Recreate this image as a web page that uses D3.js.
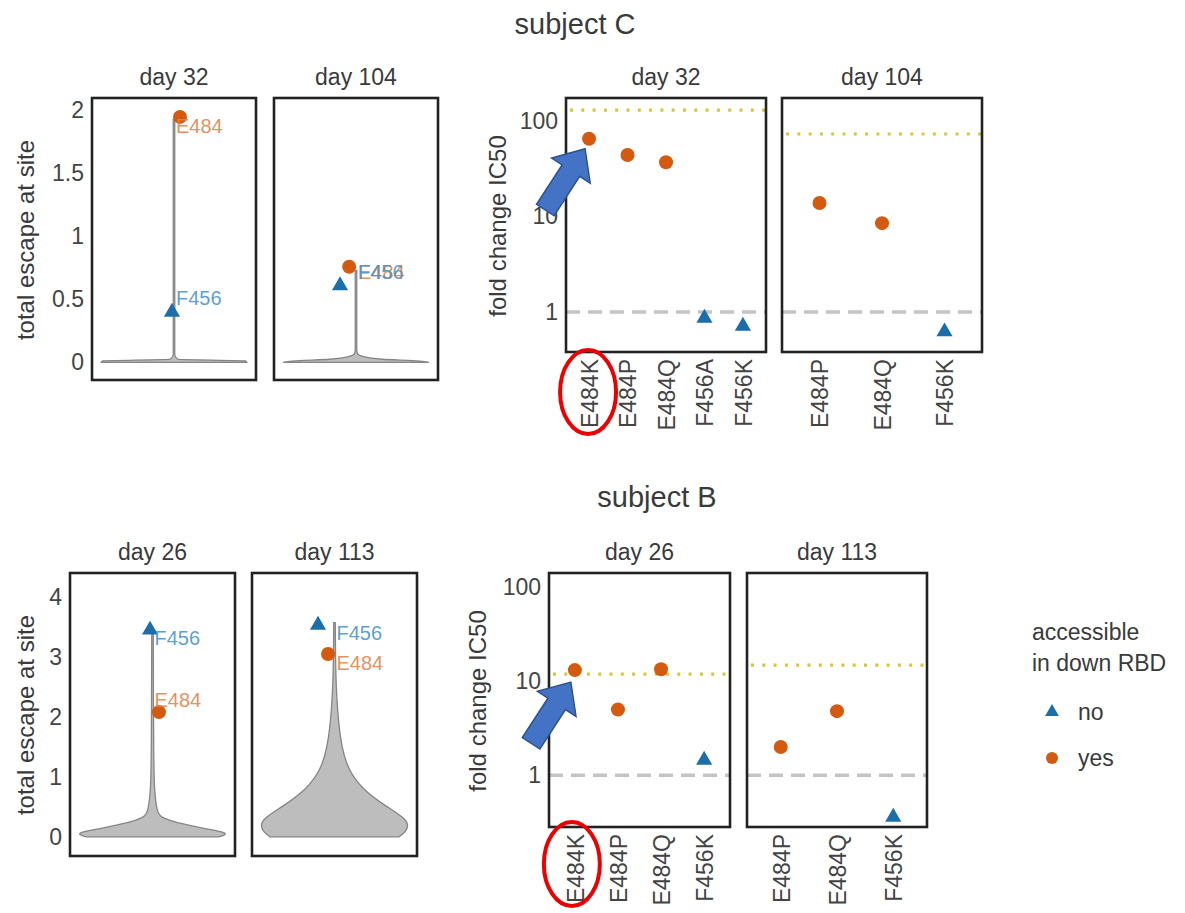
<!DOCTYPE html>
<html>
<head>
<meta charset="UTF-8">
<title>Escape at sites and fold change IC50</title>
<style>
body { margin: 0; background: #fff; }
svg { display: block; font-family: "Liberation Sans", Arial, sans-serif; }
</style>
</head>
<body>
<svg></svg>
<script src="https://d3js.org/d3.v7.min.js"></script>
<script>
let width = 1185, height = 913;

// ---------- data ----------
let subjects = ["subject C", "subject B"];
let daysC = ["day 32", "day 104"];
let daysB = ["day 26", "day 113"];

// violin outlines: [total escape at site, relative density]
let violinC32 = [[0, 0.97], [0.012, 0.95], [0.025, 0.05], [0.06, 0.01], [1.93, 0.01]];
let violinC104 = [[0, 0.97], [0.01, 0.85], [0.025, 0.35], [0.045, 0.1], [0.07, 0.02], [0.1, 0.01], [0.73, 0.01]];
let violinB26 = [[0, 0.88], [0.03, 0.98], [0.08, 0.97], [0.13, 0.72], [0.2, 0.45], [0.28, 0.2], [0.35, 0.09],
                 [0.45, 0.06], [0.62, 0.04], [0.8, 0.027], [1.2, 0.015], [3.4, 0.01]];
let violinB113 = [[0, 0.86], [0.08, 0.95], [0.2, 0.99], [0.32, 0.93], [0.5, 0.7], [0.78, 0.38], [1.12, 0.18],
                  [1.5, 0.095], [1.9, 0.055], [2.3, 0.03], [2.8, 0.015], [3.57, 0.01]];

// labelled sites on the violins
let siteNames = ["E484", "F456"];
let siteAccess = ["yes", "no"];
let siteEscC32 = [1.95, 0.40];
let siteEscC104 = [0.76, 0.61];
let siteEscB26 = [2.08, 3.45];
let siteEscB113 = [3.05, 3.53];
// jitter of the points (violin centre = 1)
let jitC32 = [1.044, 0.985];
let jitC104 = [0.95, 0.883];
let jitB26 = [1.047, 0.982];
let jitB113 = [0.953, 0.88];
// label heights as placed by the repel
let labC32 = [1.88, 0.51];
let labC104 = [0.72, 0.72];
let labB26 = [2.28, 3.32];
let labB113 = [2.9, 3.4];

// fold change IC50 per mutant
let mutC32 = ["E484K", "E484P", "E484Q", "F456A", "F456K"];
let foldC32 = [65, 44, 37, 0.86, 0.71];
let accC32 = ["yes", "yes", "yes", "no", "no"];
let mutC104 = ["E484P", "E484Q", "F456K"];
let foldC104 = [13.8, 8.5, 0.62];
let accC104 = ["yes", "yes", "no"];
let mutB26 = ["E484K", "E484P", "E484Q", "F456K"];
let foldB26 = [13.1, 5.0, 13.4, 1.45];
let accB26 = ["yes", "yes", "yes", "no"];
let mutB113 = ["E484P", "E484Q", "F456K"];
let foldB113 = [2.0, 4.8, 0.36];
let accB113 = ["yes", "yes", "no"];
// dotted limit line per panel
let limitC = [130, 73];
let limitB = [11.9, 14.8];

let escTicksC = [0, 0.5, 1, 1.5, 2];
let escTicksB = [0, 1, 2, 3, 4];
let foldTicks = [1, 10, 100];
let legendTitle = ["accessible", "in down RBD"];
let legendKeys = ["no", "yes"];

// ---------- style ----------
let orange = "#d35a0e", blue = "#1c6eaa";
let labelColor = { E484: "#e0834a", F456: "#4a93c8" };
let textColor = "#3a3a3a";

let svg = d3.select("svg")
    .attr("width", width)
    .attr("height", height);

function marker(g, acc, x, y, r) {
    if (acc == "no") {
        g.append("path").attr("d", d3.symbol().type(d3.symbolTriangle).size(r * r * 2.3)())
            .attr("transform", `translate(${x},${y})`)
            .attr("fill", blue);
    } else {
        g.append("circle").attr("cx", x).attr("cy", y).attr("r", r).attr("fill", orange);
    }
}

function frame(g, x0, x1, y0, y1, title) {
    g.append("rect")
        .attr("x", x0).attr("y", y0)
        .attr("width", x1 - x0).attr("height", y1 - y0)
        .attr("fill", "none").attr("stroke", "#222").attr("stroke-width", 2.6);
    g.append("text")
        .attr("x", (x0 + x1) / 2).attr("y", y0 - 21)
        .attr("text-anchor", "middle").attr("dominant-baseline", "central")
        .attr("font-size", 23).attr("fill", textColor)
        .text(title);
}

function yTitle(x, y, txt) {
    svg.append("text")
        .attr("transform", `translate(${x},${y}) rotate(-90)`)
        .attr("text-anchor", "middle").attr("dominant-baseline", "central")
        .attr("font-size", 24).attr("fill", textColor)
        .text(txt);
}

function leftAxis(y, x0, ticks, fmt) {
    let ax = svg.append("g")
        .attr("transform", `translate(${x0},0)`)
        .call(d3.axisLeft(y).tickValues(ticks).tickSize(0).tickPadding(8).tickFormat(fmt));
    ax.select(".domain").remove();
    ax.selectAll("text").attr("font-size", 23).attr("fill", "#444")
        .attr("font-family", "Liberation Sans, Arial, sans-serif");
}

// violin panel
function violinPanel(x0, x1, y, title, outline, esc, jit, lab, curve) {
    let g = svg.append("g");
    let x = d3.scaleLinear().domain([0.4, 1.6]).range([x0, x1]);
    let w = d3.scaleLinear().domain([0, 1]).range([0, 75]);
    let area = d3.area()
        .y(d => y(d[0]))
        .x0(d => x(1) - Math.max(w(d[1]), 0.7))
        .x1(d => x(1) + Math.max(w(d[1]), 0.7))
        .curve(curve);
    g.append("path")
        .attr("d", area(outline))
        .attr("fill", "#bdbdbd").attr("stroke", "#858585").attr("stroke-width", 1.3);

    siteNames.forEach((s, i) => {
        marker(g, siteAccess[i], x(jit[i]), y(esc[i]), 7);
    });
    siteNames.forEach((s, i) => {
        g.append("text")
            .attr("x", x(1) + 2).attr("y", y(lab[i]))
            .attr("dominant-baseline", "central")
            .attr("font-size", 20).attr("fill", labelColor[s]).attr("fill-opacity", 0.9)
            .text(s);
    });
    frame(g, x0, x1, y.range()[1], y.range()[0], title);
}

// fold change panel
function foldPanel(x0, x1, y, title, muts, folds, accs, limit) {
    let g = svg.append("g");
    let x = d3.scalePoint().domain(muts).range([x0, x1]).padding(0.6);
    let yb = y.range()[0];
    g.append("line")
        .attr("x1", x0).attr("x2", x1).attr("y1", y(1)).attr("y2", y(1))
        .attr("stroke", "#c4c4c4").attr("stroke-width", 3.5).attr("stroke-dasharray", "14,8");
    g.append("line")
        .attr("x1", x0 + 4).attr("x2", x1).attr("y1", y(limit)).attr("y2", y(limit))
        .attr("stroke", "#d4c83a").attr("stroke-width", 3.2)
        .attr("stroke-dasharray", "3,8.3");
    muts.forEach((m, i) => marker(g, accs[i], x(m), y(folds[i]), 7));

    let ax = g.append("g")
        .attr("transform", `translate(0,${yb})`)
        .call(d3.axisBottom(x).tickSize(0));
    ax.select(".domain").remove();
    ax.selectAll("text")
        .attr("transform", "rotate(-90)")
        .attr("text-anchor", "end")
        .attr("x", -7).attr("y", 0).attr("dy", "0.36em")
        .attr("font-size", 23).attr("fill", "#444")
        .attr("font-family", "Liberation Sans, Arial, sans-serif");
    frame(g, x0, x1, y.range()[1], yb, title);
    return x;
}

function arrow(tipX, tipY) {
    let L = 73, hl = 26, hw = 23, sw = 10.5;
    let pts = [[0, 0], [-hl, hw], [-hl, sw], [-L, sw], [-L, -sw], [-hl, -sw], [-hl, -hw]];
    svg.append("polygon")
        .attr("points", pts.map(p => p.join(",")).join(" "))
        .attr("transform", `translate(${tipX},${tipY}) rotate(-57)`)
        .attr("fill", "#4472c4").attr("stroke", "#2f528f").attr("stroke-width", 1.5);
}

function ring(cx, cy) {
    svg.append("ellipse")
        .attr("cx", cx).attr("cy", cy).attr("rx", 28).attr("ry", 42)
        .attr("fill", "none").attr("stroke", "#ee0000").attr("stroke-width", 4);
}

let fmtEsc = d => d3.format("~g")(d);
let fmtFold = d3.format("d");

// ---------- subject C ----------
svg.append("text").attr("x", 575).attr("y", 24)
    .attr("text-anchor", "middle").attr("dominant-baseline", "central")
    .attr("font-size", 29).attr("fill", textColor).text(subjects[0]);

let yEscC = d3.scaleLinear().domain([-0.14, 2.1]).range([380, 98]);
violinPanel(92, 256, yEscC, daysC[0], violinC32, siteEscC32, jitC32, labC32, d3.curveMonotoneY);
violinPanel(274, 438, yEscC, daysC[1], violinC104, siteEscC104, jitC104, labC104, d3.curveMonotoneY);
leftAxis(yEscC, 92, escTicksC, fmtEsc);
yTitle(25, 240, "total escape at site");

let yFoldC = d3.scaleLog().domain([0.38, 174]).range([352, 98]);
let xC32 = foldPanel(566, 766, yFoldC, daysC[0], mutC32, foldC32, accC32, limitC[0]);
foldPanel(782, 982, yFoldC, daysC[1], mutC104, foldC104, accC104, limitC[1]);
leftAxis(yFoldC, 566, foldTicks, fmtFold);
yTitle(497, 226, "fold change IC50");

// ---------- subject B ----------
svg.append("text").attr("x", 657).attr("y", 497)
    .attr("text-anchor", "middle").attr("dominant-baseline", "central")
    .attr("font-size", 29).attr("fill", textColor).text(subjects[1]);

let yEscB = d3.scaleLinear().domain([-0.32, 4.4]).range([856, 573]);
violinPanel(70, 235, yEscB, daysB[0], violinB26, siteEscB26, jitB26, labB26, d3.curveBasis);
violinPanel(252, 417, yEscB, daysB[1], violinB113, siteEscB113, jitB113, labB113, d3.curveBasis);
leftAxis(yEscB, 70, escTicksB, fmtEsc);
yTitle(25, 715, "total escape at site");

let yFoldB = d3.scaleLog().domain([0.282, 141]).range([827, 573]);
let xB26 = foldPanel(549, 730, yFoldB, daysB[0], mutB26, foldB26, accB26, limitB[0]);
foldPanel(747, 927, yFoldB, daysB[1], mutB113, foldB113, accB113, limitB[1]);
leftAxis(yFoldB, 549, foldTicks, fmtFold);
yTitle(477, 701, "fold change IC50");

// ---------- highlights on E484K ----------
arrow(xC32("E484K") - 4, yFoldC(foldC32[0]) + 10);
arrow(xB26("E484K") - 4, yFoldB(foldB26[0]) + 12);
ring(xC32("E484K") - 1, 392);
ring(xB26("E484K") - 3, 864);

// ---------- legend ----------
let leg = svg.append("g");
legendTitle.forEach((t, i) => {
    leg.append("text").attr("x", 1032).attr("y", 632 + i * 31)
        .attr("dominant-baseline", "central")
        .attr("font-size", 23).attr("fill", textColor).text(t);
});
legendKeys.forEach((k, i) => {
    marker(leg, k, 1052, 712 + i * 46, 6);
    leg.append("text").attr("x", 1078).attr("y", 712 + i * 46)
        .attr("dominant-baseline", "central")
        .attr("font-size", 23).attr("fill", textColor).text(k);
});
</script>
</body>
</html>
